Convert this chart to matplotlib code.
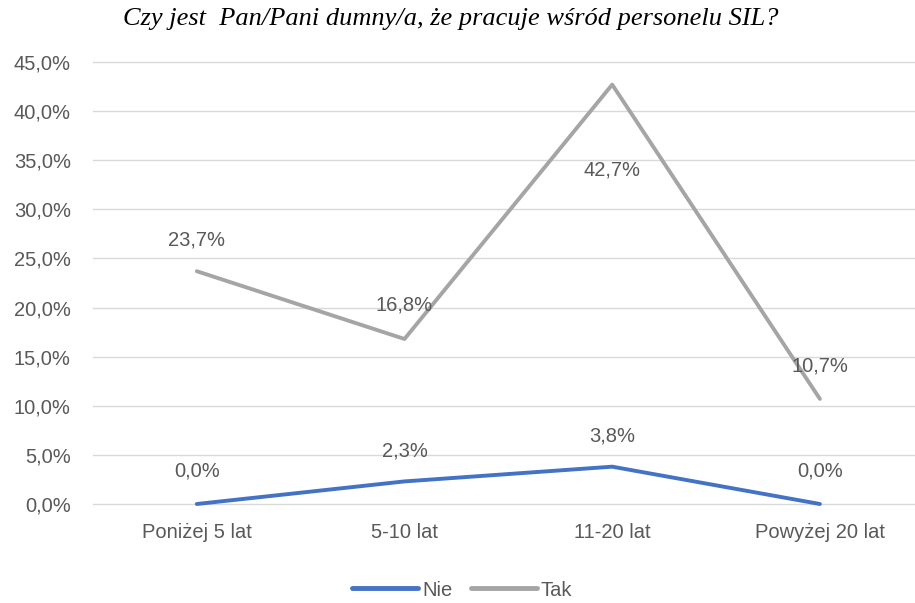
import matplotlib
matplotlib.use("Agg")
import matplotlib.pyplot as plt
from matplotlib.ticker import FuncFormatter

categories = ["Poniżej 5 lat", "5-10 lat", "11-20 lat", "Powyżej 20 lat"]
nie = [0.0, 2.3, 3.8, 0.0]
tak = [23.7, 16.8, 42.7, 10.7]
series_names = ["Nie", "Tak"]
title = "Czy jest  Pan/Pani dumny/a, że pracuje wśród personelu SIL?"

plt.rcParams["font.family"] = ["Liberation Sans", "DejaVu Sans"]

text_col = "#595959"
blue = "#4472C4"
gray = "#A5A5A5"
fs = 14.5

fig = plt.figure(figsize=(9.15, 6.03), dpi=100)
ax = fig.add_axes([0.1016, 1 - 504 / 603, 0.9, (504 - 62) / 603])

x = list(range(len(categories)))
ax.plot(x, nie, color=blue, lw=2.8, solid_capstyle="round", zorder=3,
        clip_on=False, label=series_names[0])
ax.plot(x, tak, color=gray, lw=2.8, solid_capstyle="round", zorder=3,
        clip_on=False, label=series_names[1])

def fmt(v):
    return f"{v:.1f}".replace(".", ",") + "%"

# label offsets in pixels: above (positive) or below (negative)
tak_off = [31, 34, -85, 33]
nie_off = [33, 30, 31, 33]
for xi, v, o in zip(x, tak, tak_off):
    ax.annotate(fmt(v), (xi, v), xytext=(0, o), textcoords="offset pixels",
                ha="center", va="center", fontsize=fs, color=text_col)
for xi, v, o in zip(x, nie, nie_off):
    ax.annotate(fmt(v), (xi, v), xytext=(0, o), textcoords="offset pixels",
                ha="center", va="center", fontsize=fs, color=text_col)

ax.set_ylim(0, 45)
ax.set_xlim(-0.5, 3.465)
ax.set_yticks([i * 5 for i in range(10)])
ax.yaxis.set_major_formatter(FuncFormatter(lambda v, p: fmt(v)))
ax.set_xticks(x)
ax.set_xticklabels(categories)
ax.grid(axis="y", color="#D9D9D9", lw=1)
for gl in ax.get_ygridlines():
    gl.set_clip_on(False)
ax.set_axisbelow(True)
for s in ax.spines.values():
    s.set_visible(False)
ax.tick_params(length=0, labelsize=fs, colors=text_col)
ax.tick_params(axis="y", pad=16)
ax.tick_params(axis="x", pad=14)

fig.text(0.493, 0.968, title, ha="center", va="center", fontsize=19,
         family=["Liberation Serif", "DejaVu Serif"], style="italic", color="black")

leg = fig.legend(loc="center", bbox_to_anchor=(0.505, 1 - 590 / 603), ncol=2, frameon=False,
                 fontsize=fs, handlelength=3.3, columnspacing=0.9, handletextpad=0.2)
for line in leg.get_lines():
    line.set_linewidth(3.5)
for t in leg.get_texts():
    t.set_color(text_col)

fig.savefig("out.png", dpi=100)
